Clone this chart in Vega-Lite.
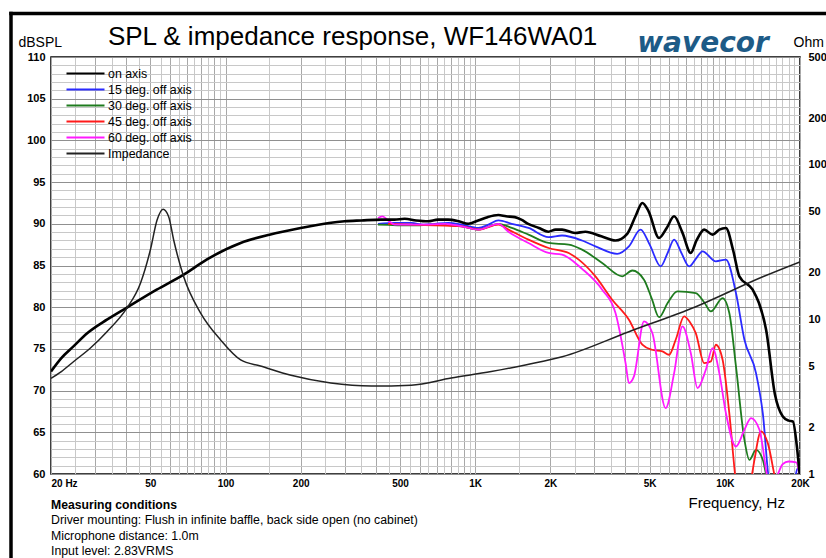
{
  "$schema": "https://vega.github.io/schema/vega-lite/v6.json",
  "width": 749,
  "height": 417,
  "autosize": {"type": "none"},
  "padding": {"left": 51, "top": 57, "right": 26, "bottom": 84},
  "background": "white",
  "config": {
    "font": "Liberation Sans",
    "view": {"stroke": "black", "strokeWidth": 1.5},
    "axis": {"labelColor": "black", "titleColor": "black", "labelFont": "Liberation Sans", "titleFont": "Liberation Sans", "labelOverlap": false, "labelBound": false}
  },
  "datasets": {
    "spl": [
      {"f": 20, "v": 72.3, "s": "on axis"}, {"f": 22, "v": 73.9, "s": "on axis"}, {"f": 24.6, "v": 75.3, "s": "on axis"}, {"f": 28, "v": 76.9, "s": "on axis"}, {"f": 33.5, "v": 78.5, "s": "on axis"}, {"f": 40, "v": 79.9, "s": "on axis"}, {"f": 53, "v": 82.1, "s": "on axis"}, {"f": 68, "v": 83.9, "s": "on axis"}, {"f": 84, "v": 85.7, "s": "on axis"}, {"f": 115, "v": 87.7, "s": "on axis"}, {"f": 150, "v": 88.7, "s": "on axis"}, {"f": 200, "v": 89.5, "s": "on axis"}, {"f": 260, "v": 90.1, "s": "on axis"}, {"f": 300, "v": 90.3, "s": "on axis"}, {"f": 350, "v": 90.4, "s": "on axis"}, {"f": 420, "v": 90.5, "s": "on axis"}, {"f": 475, "v": 90.5, "s": "on axis"}, {"f": 522, "v": 90.6, "s": "on axis"}, {"f": 580, "v": 90.4, "s": "on axis"}, {"f": 646, "v": 90.3, "s": "on axis"}, {"f": 710, "v": 90.5, "s": "on axis"}, {"f": 778, "v": 90.5, "s": "on axis"}, {"f": 860, "v": 90.3, "s": "on axis"}, {"f": 938, "v": 90.0, "s": "on axis"}, {"f": 1028, "v": 90.4, "s": "on axis"}, {"f": 1120, "v": 90.8, "s": "on axis"}, {"f": 1238, "v": 91.05, "s": "on axis"}, {"f": 1330, "v": 90.9, "s": "on axis"}, {"f": 1442, "v": 90.8, "s": "on axis"}, {"f": 1530, "v": 90.5, "s": "on axis"}, {"f": 1630, "v": 90.0, "s": "on axis"}, {"f": 1800, "v": 89.5, "s": "on axis"}, {"f": 1964, "v": 89.05, "s": "on axis"}, {"f": 2100, "v": 89.3, "s": "on axis"}, {"f": 2228, "v": 89.3, "s": "on axis"}, {"f": 2512, "v": 88.9, "s": "on axis"}, {"f": 2762, "v": 89.05, "s": "on axis"}, {"f": 3200, "v": 88.5, "s": "on axis"}, {"f": 3648, "v": 88.0, "s": "on axis"}, {"f": 4064, "v": 88.8, "s": "on axis"}, {"f": 4400, "v": 91.0, "s": "on axis"}, {"f": 4672, "v": 92.5, "s": "on axis"}, {"f": 4950, "v": 91.5, "s": "on axis"}, {"f": 5452, "v": 88.3, "s": "on axis"}, {"f": 5850, "v": 89.5, "s": "on axis"}, {"f": 6264, "v": 90.9, "s": "on axis"}, {"f": 6750, "v": 89.0, "s": "on axis"}, {"f": 7304, "v": 86.5, "s": "on axis"}, {"f": 7700, "v": 88.0, "s": "on axis"}, {"f": 8268, "v": 89.3, "s": "on axis"}, {"f": 8930, "v": 88.7, "s": "on axis"}, {"f": 9500, "v": 89.3, "s": "on axis"}, {"f": 10100, "v": 89.5, "s": "on axis"}, {"f": 10800, "v": 86.8, "s": "on axis"}, {"f": 11430, "v": 83.7, "s": "on axis"}, {"f": 12930, "v": 82.1, "s": "on axis"}, {"f": 13700, "v": 80.5, "s": "on axis"}, {"f": 14630, "v": 77.3, "s": "on axis"}, {"f": 15860, "v": 69.6, "s": "on axis"}, {"f": 17070, "v": 66.9, "s": "on axis"}, {"f": 18000, "v": 66.4, "s": "on axis"}, {"f": 18730, "v": 66.3, "s": "on axis"}, {"f": 19400, "v": 63.5, "s": "on axis"}, {"f": 20000, "v": 59.5, "s": "on axis"},

      {"f": 408, "v": 89.98, "s": "15 deg. off axis"}, {"f": 480, "v": 90.1, "s": "15 deg. off axis"}, {"f": 555, "v": 90.1, "s": "15 deg. off axis"}, {"f": 620, "v": 89.9, "s": "15 deg. off axis"}, {"f": 689, "v": 90.0, "s": "15 deg. off axis"}, {"f": 780, "v": 90.1, "s": "15 deg. off axis"}, {"f": 882, "v": 89.9, "s": "15 deg. off axis"}, {"f": 1030, "v": 89.5, "s": "15 deg. off axis"}, {"f": 1130, "v": 89.9, "s": "15 deg. off axis"}, {"f": 1239, "v": 90.4, "s": "15 deg. off axis"}, {"f": 1401, "v": 90.0, "s": "15 deg. off axis"}, {"f": 1635, "v": 89.5, "s": "15 deg. off axis"}, {"f": 1968, "v": 88.4, "s": "15 deg. off axis"}, {"f": 2228, "v": 88.6, "s": "15 deg. off axis"}, {"f": 2680, "v": 88.0, "s": "15 deg. off axis"}, {"f": 3031, "v": 87.3, "s": "15 deg. off axis"}, {"f": 3706, "v": 86.4, "s": "15 deg. off axis"}, {"f": 4129, "v": 87.3, "s": "15 deg. off axis"}, {"f": 4598, "v": 89.3, "s": "15 deg. off axis"}, {"f": 5000, "v": 87.5, "s": "15 deg. off axis"}, {"f": 5533, "v": 84.9, "s": "15 deg. off axis"}, {"f": 5900, "v": 86.5, "s": "15 deg. off axis"}, {"f": 6264, "v": 88.1, "s": "15 deg. off axis"}, {"f": 6700, "v": 86.5, "s": "15 deg. off axis"}, {"f": 7196, "v": 84.9, "s": "15 deg. off axis"}, {"f": 7650, "v": 85.8, "s": "15 deg. off axis"}, {"f": 8138, "v": 86.7, "s": "15 deg. off axis"}, {"f": 9206, "v": 85.5, "s": "15 deg. off axis"}, {"f": 10100, "v": 85.7, "s": "15 deg. off axis"}, {"f": 11080, "v": 81.7, "s": "15 deg. off axis"}, {"f": 11980, "v": 76.1, "s": "15 deg. off axis"}, {"f": 13330, "v": 72.1, "s": "15 deg. off axis"}, {"f": 14190, "v": 67.3, "s": "15 deg. off axis"}, {"f": 15100, "v": 59, "s": "15 deg. off axis"}, {"f": 17000, "v": 57, "s": "15 deg. off axis"}, {"f": 18900, "v": 58.5, "s": "15 deg. off axis"}, {"f": 19500, "v": 60.6, "s": "15 deg. off axis"}, {"f": 20000, "v": 60.4, "s": "15 deg. off axis"},

      {"f": 408, "v": 89.9, "s": "30 deg. off axis"}, {"f": 555, "v": 89.8, "s": "30 deg. off axis"}, {"f": 689, "v": 89.9, "s": "30 deg. off axis"}, {"f": 882, "v": 89.7, "s": "30 deg. off axis"}, {"f": 1030, "v": 89.3, "s": "30 deg. off axis"}, {"f": 1239, "v": 90.0, "s": "30 deg. off axis"}, {"f": 1401, "v": 89.5, "s": "30 deg. off axis"}, {"f": 1635, "v": 88.7, "s": "30 deg. off axis"}, {"f": 1968, "v": 87.7, "s": "30 deg. off axis"}, {"f": 2369, "v": 87.5, "s": "30 deg. off axis"}, {"f": 2680, "v": 86.9, "s": "30 deg. off axis"}, {"f": 3226, "v": 85.3, "s": "30 deg. off axis"}, {"f": 3882, "v": 83.7, "s": "30 deg. off axis"}, {"f": 4258, "v": 84.4, "s": "30 deg. off axis"}, {"f": 4745, "v": 83.3, "s": "30 deg. off axis"}, {"f": 5100, "v": 81.0, "s": "30 deg. off axis"}, {"f": 5452, "v": 78.8, "s": "30 deg. off axis"}, {"f": 5900, "v": 80.5, "s": "30 deg. off axis"}, {"f": 6457, "v": 81.9, "s": "30 deg. off axis"}, {"f": 7648, "v": 81.7, "s": "30 deg. off axis"}, {"f": 8300, "v": 80.5, "s": "30 deg. off axis"}, {"f": 8791, "v": 79.5, "s": "30 deg. off axis"}, {"f": 9795, "v": 81.1, "s": "30 deg. off axis"}, {"f": 10420, "v": 79.3, "s": "30 deg. off axis"}, {"f": 11080, "v": 72.9, "s": "30 deg. off axis"}, {"f": 11980, "v": 64.1, "s": "30 deg. off axis"}, {"f": 12540, "v": 61.7, "s": "30 deg. off axis"}, {"f": 13330, "v": 62.9, "s": "30 deg. off axis"}, {"f": 14190, "v": 61.7, "s": "30 deg. off axis"}, {"f": 14860, "v": 59, "s": "30 deg. off axis"}, {"f": 16000, "v": 57, "s": "30 deg. off axis"},

      {"f": 448, "v": 90.0, "s": "45 deg. off axis"}, {"f": 555, "v": 89.9, "s": "45 deg. off axis"}, {"f": 689, "v": 89.8, "s": "45 deg. off axis"}, {"f": 882, "v": 89.7, "s": "45 deg. off axis"}, {"f": 1030, "v": 89.3, "s": "45 deg. off axis"}, {"f": 1239, "v": 89.9, "s": "45 deg. off axis"}, {"f": 1359, "v": 89.3, "s": "45 deg. off axis"}, {"f": 1635, "v": 88.1, "s": "45 deg. off axis"}, {"f": 1968, "v": 87.1, "s": "45 deg. off axis"}, {"f": 2369, "v": 86.5, "s": "45 deg. off axis"}, {"f": 2599, "v": 85.7, "s": "45 deg. off axis"}, {"f": 3031, "v": 83.7, "s": "45 deg. off axis"}, {"f": 3538, "v": 80.9, "s": "45 deg. off axis"}, {"f": 4129, "v": 78.5, "s": "45 deg. off axis"}, {"f": 4672, "v": 75.5, "s": "45 deg. off axis"}, {"f": 5100, "v": 74.9, "s": "45 deg. off axis"}, {"f": 5620, "v": 74.7, "s": "45 deg. off axis"}, {"f": 5980, "v": 74.3, "s": "45 deg. off axis"}, {"f": 6356, "v": 76.1, "s": "45 deg. off axis"}, {"f": 6871, "v": 78.9, "s": "45 deg. off axis"}, {"f": 7250, "v": 78.2, "s": "45 deg. off axis"}, {"f": 7648, "v": 76.9, "s": "45 deg. off axis"}, {"f": 8268, "v": 73.3, "s": "45 deg. off axis"}, {"f": 8791, "v": 73.5, "s": "45 deg. off axis"}, {"f": 9206, "v": 75.5, "s": "45 deg. off axis"}, {"f": 9795, "v": 73.7, "s": "45 deg. off axis"}, {"f": 10420, "v": 67.3, "s": "45 deg. off axis"}, {"f": 11080, "v": 59, "s": "45 deg. off axis"}, {"f": 12000, "v": 55, "s": "45 deg. off axis"}, {"f": 12700, "v": 59, "s": "45 deg. off axis"}, {"f": 13140, "v": 61.7, "s": "45 deg. off axis"}, {"f": 13960, "v": 65.1, "s": "45 deg. off axis"}, {"f": 14860, "v": 63.7, "s": "45 deg. off axis"}, {"f": 16050, "v": 59, "s": "45 deg. off axis"}, {"f": 17000, "v": 57, "s": "45 deg. off axis"},

      {"f": 408, "v": 90.7, "s": "60 deg. off axis"}, {"f": 425, "v": 90.9, "s": "60 deg. off axis"}, {"f": 448, "v": 90.4, "s": "60 deg. off axis"}, {"f": 476, "v": 89.9, "s": "60 deg. off axis"}, {"f": 555, "v": 89.9, "s": "60 deg. off axis"}, {"f": 648, "v": 89.9, "s": "60 deg. off axis"}, {"f": 760, "v": 90.0, "s": "60 deg. off axis"}, {"f": 882, "v": 89.7, "s": "60 deg. off axis"}, {"f": 1030, "v": 89.3, "s": "60 deg. off axis"}, {"f": 1239, "v": 90.0, "s": "60 deg. off axis"}, {"f": 1359, "v": 89.05, "s": "60 deg. off axis"}, {"f": 1635, "v": 87.7, "s": "60 deg. off axis"}, {"f": 1968, "v": 86.5, "s": "60 deg. off axis"}, {"f": 2228, "v": 86.3, "s": "60 deg. off axis"}, {"f": 2680, "v": 84.6, "s": "60 deg. off axis"}, {"f": 3226, "v": 82.1, "s": "60 deg. off axis"}, {"f": 3648, "v": 79.3, "s": "60 deg. off axis"}, {"f": 4003, "v": 73.3, "s": "60 deg. off axis"}, {"f": 4129, "v": 70.9, "s": "60 deg. off axis"}, {"f": 4324, "v": 71.7, "s": "60 deg. off axis"}, {"f": 4745, "v": 78.3, "s": "60 deg. off axis"}, {"f": 5124, "v": 76.9, "s": "60 deg. off axis"}, {"f": 5794, "v": 67.9, "s": "60 deg. off axis"}, {"f": 6264, "v": 72.1, "s": "60 deg. off axis"}, {"f": 6763, "v": 77.7, "s": "60 deg. off axis"}, {"f": 7304, "v": 74.5, "s": "60 deg. off axis"}, {"f": 7771, "v": 70.3, "s": "60 deg. off axis"}, {"f": 8391, "v": 72.5, "s": "60 deg. off axis"}, {"f": 8930, "v": 75.1, "s": "60 deg. off axis"}, {"f": 9502, "v": 72.1, "s": "60 deg. off axis"}, {"f": 10100, "v": 67.3, "s": "60 deg. off axis"}, {"f": 11080, "v": 63.3, "s": "60 deg. off axis"}, {"f": 11980, "v": 65.3, "s": "60 deg. off axis"}, {"f": 12730, "v": 66.7, "s": "60 deg. off axis"}, {"f": 13760, "v": 65.3, "s": "60 deg. off axis"}, {"f": 15100, "v": 59, "s": "60 deg. off axis"}, {"f": 16000, "v": 59.5, "s": "60 deg. off axis"}, {"f": 17070, "v": 61.2, "s": "60 deg. off axis"}, {"f": 18000, "v": 61.5, "s": "60 deg. off axis"}, {"f": 19310, "v": 61.4, "s": "60 deg. off axis"}, {"f": 20000, "v": 59.5, "s": "60 deg. off axis"}
    ],
    "imp": [
      {"f": 20, "ohm": 4.16, "s": "Impedance"}, {"f": 22, "ohm": 4.6, "s": "Impedance"}, {"f": 24.6, "ohm": 5.33, "s": "Impedance"}, {"f": 28.7, "ohm": 6.51, "s": "Impedance"}, {"f": 33.5, "ohm": 8.34, "s": "Impedance"}, {"f": 40.2, "ohm": 11.8, "s": "Impedance"}, {"f": 45.6, "ohm": 17.1, "s": "Impedance"}, {"f": 50, "ohm": 28.2, "s": "Impedance"}, {"f": 53.2, "ohm": 44, "s": "Impedance"}, {"f": 56.2, "ohm": 51.7, "s": "Impedance"}, {"f": 59.2, "ohm": 46.3, "s": "Impedance"}, {"f": 62, "ohm": 32.7, "s": "Impedance"}, {"f": 68, "ohm": 18.9, "s": "Impedance"}, {"f": 79.5, "ohm": 11, "s": "Impedance"}, {"f": 95.6, "ohm": 7.37, "s": "Impedance"}, {"f": 115, "ohm": 5.47, "s": "Impedance"}, {"f": 138, "ohm": 5.0, "s": "Impedance"}, {"f": 183, "ohm": 4.35, "s": "Impedance"}, {"f": 264, "ohm": 3.88, "s": "Impedance"}, {"f": 384, "ohm": 3.71, "s": "Impedance"}, {"f": 554, "ohm": 3.76, "s": "Impedance"}, {"f": 802, "ohm": 4.18, "s": "Impedance"}, {"f": 1160, "ohm": 4.6, "s": "Impedance"}, {"f": 1606, "ohm": 5.1, "s": "Impedance"}, {"f": 2232, "ohm": 5.74, "s": "Impedance"}, {"f": 4130, "ohm": 8.34, "s": "Impedance"}, {"f": 7648, "ohm": 12.1, "s": "Impedance"}, {"f": 14190, "ohm": 18.9, "s": "Impedance"}, {"f": 20000, "ohm": 23.6, "s": "Impedance"}
    ]
  },
  "layer": [
    {
      "layer": [
        {
          "data": {"name": "spl"},
          "transform": [{"filter": "datum.s != 'on axis'"}],
          "mark": {"type": "line", "interpolate": "monotone", "clip": true, "strokeWidth": 1.8},
          "encoding": {
            "x": {
              "field": "f", "type": "quantitative",
              "scale": {"type": "log", "domain": [20, 20000], "nice": false},
              "axis": {
                "values": [20,25,30,35,40,45,50,55,60,65,70,75,80,85,90,95,100,150,200,250,300,350,400,450,500,550,600,650,700,750,800,850,900,950,1000,1500,2000,2500,3000,3500,4000,4500,5000,5500,6000,6500,7000,7500,8000,8500,9000,9500,10000,11000,12000,13000,14000,15000,16000,17000,18000,19000,20000],
                "tickCount": 200,
                "labelExpr": "datum.value == 20 ? '20 Hz' : (datum.value == 50 || datum.value == 100 || datum.value == 200 || datum.value == 500) ? '' + datum.value : (datum.value == 1000 || datum.value == 2000 || datum.value == 5000 || datum.value == 10000 || datum.value == 20000) ? (datum.value / 1000) + 'K' : ''",
                "labelFlush": false,
                "labelOverlap": false,
                "labelAlign": {"condition": {"test": "datum.value == 20", "value": "left"}, "value": "center"},
                "labelFontWeight": "bold",
                "labelFontSize": 10,
                "labelPadding": 4,
                "ticks": false,
                "domain": false,
                "grid": true,
                "gridColor": {"condition": {"test": "datum.value % pow(10, floor(log(datum.value) / LN10 + 0.000001)) == 0", "value": "#a8a8a8"}, "value": "#c8c8c8"},
                "gridOpacity": 1,
                "title": "Frequency, Hz",
                "titleX": 637,
                "titleY": 33,
                "titleAlign": "left",
                "titleBaseline": "alphabetic",
                "titleFontSize": 15,
                "titleFontWeight": "normal"
              }
            },
            "y": {
              "field": "v", "type": "quantitative",
              "scale": {"domain": [60, 110], "nice": false, "zero": false},
              "axis": {
                "values": [60,61,62,63,64,65,66,67,68,69,70,71,72,73,74,75,76,77,78,79,80,81,82,83,84,85,86,87,88,89,90,91,92,93,94,95,96,97,98,99,100,101,102,103,104,105,106,107,108,109,110],
                "tickCount": 200,
                "labelExpr": "datum.value % 5 == 0 ? '' + datum.value : ''",
                "labelOverlap": false,
                "ticks": false,
                "domain": false,
                "labelFontWeight": "bold",
                "labelFontSize": 11,
                "labelPadding": 6,
                "grid": true,
                "gridColor": {"condition": {"test": "datum.value % 5 == 0", "value": "#909090"}, "value": "#c8c8c8"},
                "gridOpacity": 1,
                "title": "dBSPL",
                "titleAngle": 0,
                "titleX": -33,
                "titleY": -11,
                "titleAlign": "left",
                "titleBaseline": "alphabetic",
                "titleFontSize": 14,
                "titleFontWeight": "normal"
              }
            },
            "color": {
              "field": "s", "type": "nominal",
              "scale": {
                "domain": ["on axis", "15 deg. off axis", "30 deg. off axis", "45 deg. off axis", "60 deg. off axis", "Impedance"],
                "range": ["#000000", "#2b2bff", "#1e7b1e", "#ff1a1a", "#ff1aff", "#222222"]
              },
              "legend": {
                "title": null,
                "orient": "top-left",
                "offset": 10,
                "padding": 0,
                "symbolType": "M-0.2,0H7.4",
                "symbolSize": 100,
                "symbolStrokeWidth": 2.2,
                "labelFontSize": 12.4,
                "labelFont": "Liberation Sans",
                "labelColor": "black",
                "labelOffset": 34,
                "rowPadding": 3
              }
            }
          }
        },
        {
          "data": {"name": "spl"},
          "transform": [{"filter": "datum.s == 'on axis'"}],
          "mark": {"type": "line", "interpolate": "monotone", "clip": true, "strokeWidth": 2.6},
          "encoding": {
            "x": {"field": "f", "type": "quantitative"},
            "y": {"field": "v", "type": "quantitative"},
            "color": {"field": "s", "type": "nominal"}
          }
        }
      ]
    },
    {
      "data": {"name": "imp"},
      "mark": {"type": "line", "interpolate": "monotone", "clip": true, "strokeWidth": 1.5},
      "encoding": {
        "x": {"field": "f", "type": "quantitative"},
        "y": {
          "field": "ohm", "type": "quantitative",
          "scale": {"type": "log", "domain": [1, 500], "nice": false},
          "axis": {
            "orient": "right",
            "values": [1, 2, 5, 10, 20, 50, 100, 200, 500],
            "tickCount": 50,
            "grid": false,
            "ticks": false,
            "domain": false,
            "labelFontWeight": "bold",
            "labelFontSize": 11,
            "labelPadding": 8,
            "labelAlign": "left",
            "title": "Ohm",
            "titleAngle": 0,
            "titleX": -7,
            "titleY": -11,
            "titleAlign": "left",
            "titleBaseline": "alphabetic",
            "titleFontSize": 14,
            "titleFontWeight": "normal"
          }
        },
        "color": {"field": "s", "type": "nominal"}
      }
    },
    {
      "layer": [
        {
          "data": {"values": [{}]},
          "mark": {"type": "text", "align": "left", "baseline": "alphabetic", "font": "Liberation Sans", "fontSize": 26, "color": "black"},
          "encoding": {
            "x": {"datum": 33.8, "type": "quantitative"},
            "y": {"datum": 111.38, "type": "quantitative", "scale": {"domain": [60, 110], "nice": false, "zero": false}, "axis": null},
            "text": {"value": "SPL & impedance response, WF146WA01"}
          }
        },
        {
          "data": {"values": [{}]},
          "mark": {"type": "text", "align": "left", "baseline": "alphabetic", "font": "Liberation Sans", "fontSize": 12.2, "fontWeight": "bold", "color": "black"},
          "encoding": {
            "x": {"datum": 20, "type": "quantitative"},
            "y": {"datum": 55.8, "type": "quantitative", "axis": null},
            "text": {"value": "Measuring conditions"}
          }
        },
        {
          "data": {"values": [{}]},
          "mark": {"type": "text", "align": "left", "baseline": "alphabetic", "font": "Liberation Sans", "fontSize": 12.3, "lineHeight": 15.5, "color": "black"},
          "encoding": {
            "x": {"datum": 20, "type": "quantitative"},
            "y": {"datum": 54.0, "type": "quantitative", "axis": null},
            "text": {"value": ["Driver mounting: Flush in infinite baffle, back side open (no cabinet)", "Microphone distance: 1.0m", "Input level: 2.83VRMS"]}
          }
        },
        {
          "data": {"values": [{}]},
          "mark": {"type": "text", "align": "center", "baseline": "alphabetic", "font": "DejaVu Sans", "fontSize": 28, "fontStyle": "italic", "fontWeight": "bold", "color": "#1d5b87"},
          "encoding": {
            "x": {"datum": 8176, "type": "quantitative"},
            "y": {"datum": 110.6, "type": "quantitative", "axis": null},
            "text": {"value": "wavecor"}
          }
        },
        {
          "data": {"values": [{}]},
          "mark": {"type": "rule", "color": "black", "strokeWidth": 3.5, "strokeCap": "square", "clip": false},
          "encoding": {
            "x": {"datum": 13.83, "type": "quantitative"},
            "y": {"datum": 115.216, "type": "quantitative", "axis": null},
            "y2": {"datum": 40}
          }
        },
        {
          "data": {"values": [{}]},
          "mark": {"type": "rule", "color": "black", "strokeWidth": 3.5, "strokeCap": "square", "clip": false},
          "encoding": {
            "x": {"datum": 13.83, "type": "quantitative"},
            "x2": {"datum": 40000},
            "y": {"datum": 115.216, "type": "quantitative", "axis": null}
          }
        }
      ]
    }
  ],
  "resolve": {"scale": {"y": "independent"}}
}
